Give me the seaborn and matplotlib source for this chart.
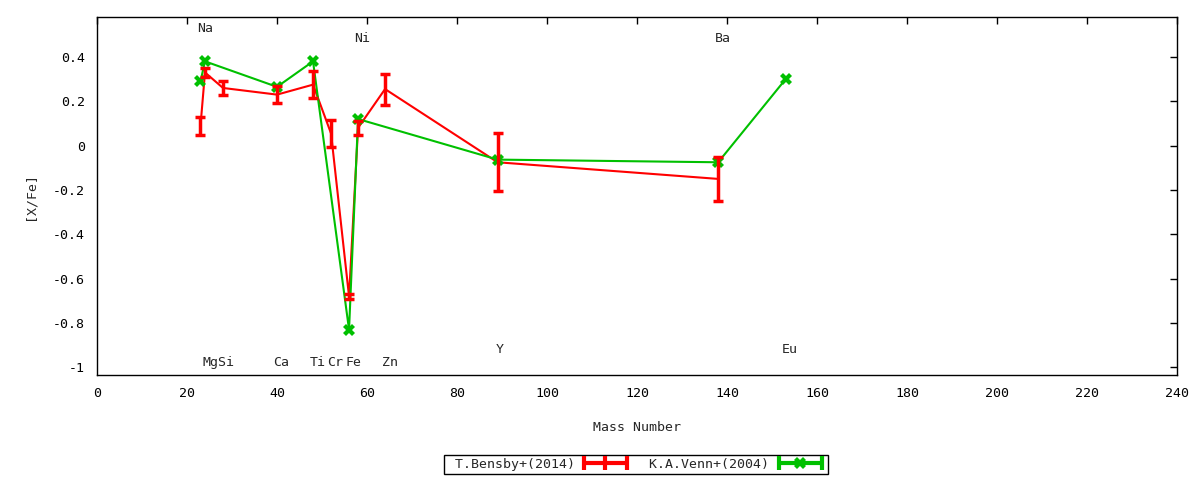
import matplotlib
matplotlib.use("Agg")
import matplotlib.pyplot as plt
from matplotlib.lines import Line2D
from matplotlib.legend_handler import HandlerLine2D
import seaborn as sns
import pandas as pd

# T.Bensby+(2014)
bensby_mass = [23, 24, 28, 40, 48, 52, 56, 58, 64, 89, 138]
bensby_xfe = [0.09, 0.33, 0.26, 0.23, 0.275, 0.055, -0.68, 0.08, 0.255, -0.075, -0.15]
bensby_err = [0.04, 0.02, 0.03, 0.04, 0.06, 0.06, 0.01, 0.03, 0.07, 0.13, 0.10]

# K.A.Venn+(2004)
venn_mass = [23, 24, 40, 48, 56, 58, 89, 138, 153]
venn_xfe = [0.29, 0.38, 0.265, 0.38, -0.83, 0.12, -0.063, -0.075, 0.30]

# element labels (x, y, text)
label_x = [24, 59, 139, 27, 41, 49, 53, 57, 65, 89.5, 154]
label_y = [0.53, 0.485, 0.485, -0.98, -0.98, -0.98, -0.98, -0.98, -0.98, -0.92, -0.92]
label_txt = ["Na", "Ni", "Ba", "MgSi", "Ca", "Ti", "Cr", "Fe", "Zn", "Y", "Eu"]

RED = "#ff0000"
GREEN = "#00c000"

sns.set_style("white")
plt.rcParams["font.family"] = ["DejaVu Sans Mono"]
plt.rcParams["font.size"] = 9.5
plt.rcParams["axes.unicode_minus"] = False

df_b = pd.DataFrame({"mass": bensby_mass, "xfe": bensby_xfe, "err": bensby_err})
df_v = pd.DataFrame({"mass": venn_mass, "xfe": venn_xfe})

fig = plt.figure(figsize=(12, 4.8), dpi=100)
ax = fig.add_axes([0.0808, 0.2188, 0.9003, 0.7458])

sns.lineplot(data=df_b, x="mass", y="xfe", sort=False, color=RED, lw=1.5, ax=ax)
ax.errorbar(df_b["mass"], df_b["xfe"], yerr=df_b["err"], fmt="none",
            ecolor=RED, elinewidth=2.5, capsize=3.5, capthick=2.5, zorder=3)
sns.lineplot(data=df_v, x="mass", y="xfe", sort=False, color=GREEN, lw=1.5,
             marker="X", markersize=8, markeredgewidth=0, ax=ax)

for x, y, t in zip(label_x, label_y, label_txt):
    ax.text(x, y, t, ha="center", va="center")

ax.set_xlim(0, 240)
ax.set_ylim(-1.034, 0.58)
ax.set_xticks(range(0, 241, 20))
ax.set_yticks([-1, -0.8, -0.6, -0.4, -0.2, 0, 0.2, 0.4])
ax.set_yticklabels(["-1", "-0.8", "-0.6", "-0.4", "-0.2", "0", "0.2", "0.4"])
ax.tick_params(direction="in", length=5, top=True, right=True, width=1,
               colors="black")
ax.tick_params(axis="x", pad=9)
ax.tick_params(axis="y", pad=8.5)
for s in ax.spines.values():
    s.set_color("black")
    s.set_linewidth(1)
ax.set_xlabel("Mass Number", labelpad=15)
ax.set_ylabel("[X/Fe]", labelpad=12)

red_h = Line2D([], [], color=RED, lw=3, marker="|", ms=10, mew=3)
green_caps = Line2D([], [], color=GREEN, lw=3, marker="|", ms=10, mew=3)
green_x = Line2D([], [], color=GREEN, ls="none", marker="X", ms=9, mew=0)
leg = fig.legend([red_h, (green_caps, green_x)],
                 [" T.Bensby+(2014)", " K.A.Venn+(2004)"],
                 handler_map={red_h: HandlerLine2D(numpoints=3),
                              green_caps: HandlerLine2D(numpoints=2),
                              green_x: HandlerLine2D(numpoints=1)},
                 loc="center", bbox_to_anchor=(0.53, 0.033), ncol=2,
                 markerfirst=False, fancybox=False, framealpha=1,
                 edgecolor="black", borderpad=0.22, handlelength=3.86,
                 handletextpad=0.4, columnspacing=0.8, borderaxespad=0)
leg.get_frame().set_linewidth(1)

fig.savefig("out.png", dpi=100)
